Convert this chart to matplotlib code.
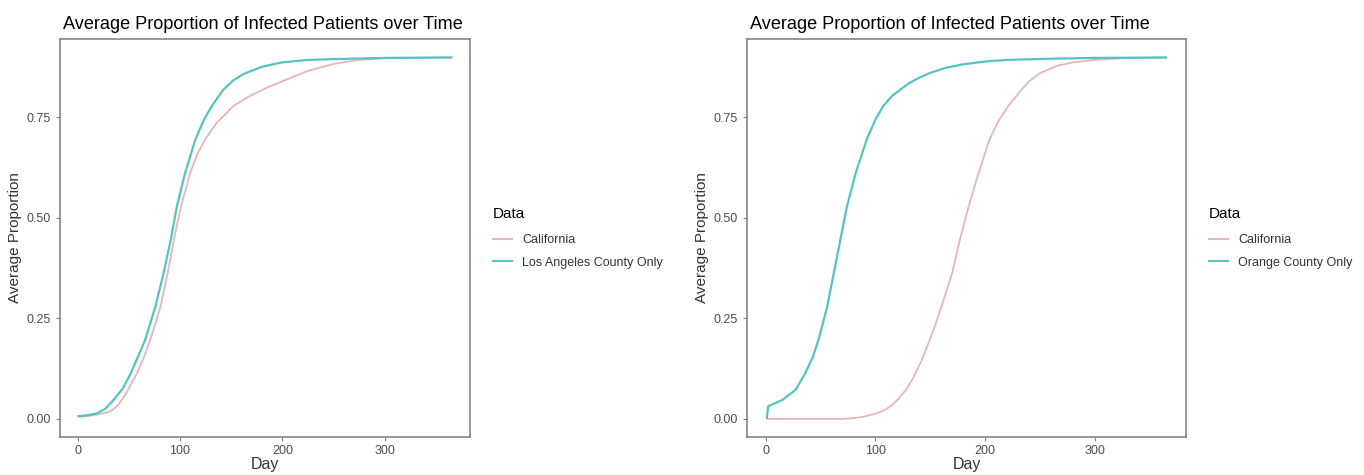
import matplotlib
matplotlib.use("Agg")
import matplotlib.pyplot as plt
from matplotlib.lines import Line2D

plt.rcParams['font.family'] = ['Liberation Sans', 'DejaVu Sans']

# ---- Data ----
days_ca_left = [1, 10, 20, 30, 35, 40, 47, 58, 65, 71, 76, 81, 88, 94, 101, 110, 117, 125,
                136, 152, 168, 185, 200, 225, 250, 275, 300, 365]
ca_left = [0.005, 0.007, 0.011, 0.017, 0.024, 0.036, 0.062, 0.114, 0.155, 0.197, 0.238,
           0.28, 0.363, 0.446, 0.529, 0.612, 0.66, 0.697, 0.737, 0.778, 0.803, 0.824,
           0.84, 0.866, 0.883, 0.893, 0.897, 0.899]

days_la = [1, 10, 19, 27, 35, 44, 52, 59, 66, 71, 76, 84, 91, 97, 105, 115, 123, 131,
           142, 152, 162, 180, 200, 225, 250, 300, 365]
la = [0.007, 0.009, 0.014, 0.025, 0.047, 0.075, 0.114, 0.155, 0.197, 0.238, 0.28, 0.363,
      0.446, 0.529, 0.612, 0.695, 0.742, 0.778, 0.818, 0.842, 0.858, 0.876, 0.887, 0.893,
      0.895, 0.898, 0.899]

days_ca_right = [1, 40, 70, 80, 90, 100, 105, 110, 115, 121, 128, 134, 142, 150, 156, 162,
                 170, 177, 185, 194, 204, 212, 221, 232, 240, 250, 265, 280, 300, 325, 365]
ca_right = [0.0, 0.0, 0.0, 0.002, 0.006, 0.013, 0.018, 0.025, 0.034, 0.05, 0.073, 0.10,
            0.145, 0.2, 0.245, 0.295, 0.363, 0.446, 0.529, 0.612, 0.695, 0.74, 0.778,
            0.815, 0.84, 0.86, 0.878, 0.887, 0.893, 0.897, 0.899]

days_oc = [1, 2, 5, 15, 27, 36, 43, 48, 52, 56, 62, 68, 74, 82, 92, 100, 107, 115, 123,
           130, 140, 150, 165, 180, 200, 220, 260, 300, 365]
oc = [0.003, 0.031, 0.035, 0.047, 0.072, 0.114, 0.155, 0.197, 0.238, 0.28, 0.363, 0.446,
      0.529, 0.612, 0.695, 0.745, 0.778, 0.803, 0.82, 0.834, 0.849, 0.861, 0.874, 0.882,
      0.889, 0.893, 0.896, 0.898, 0.899]

x_ticks = [0, 100, 200, 300]
y_ticks = [0.0, 0.25, 0.5, 0.75]
y_labels = ["0.00", "0.25", "0.50", "0.75"]

title = "Average Proportion of Infected Patients over Time"
pink = "#E5B6B8"
teal = "#55C3C3"
gray_text = "#4D4D4D"

fig = plt.figure(figsize=(13.64, 4.75), dpi=100)

def make_panel(rect, series, legend_labels, legend_x):
    ax = fig.add_axes(rect)
    for (d, v, c, lw) in series:
        ax.plot(d, v, color=c, lw=lw, solid_joinstyle='round')
    ax.set_xlim(-17.2, 383.2)
    ax.set_ylim(-0.045, 0.945)
    ax.set_xticks(x_ticks)
    ax.set_yticks(y_ticks)
    ax.set_yticklabels(y_labels)
    ax.tick_params(axis='both', colors='#7F7F7F', labelcolor=gray_text, labelsize=9,
                   length=3, width=0.8)
    ax.tick_params(axis='x', pad=3)
    for s in ax.spines.values():
        s.set_color('#7A7A7A')
        s.set_linewidth(1.1)
    ax.set_xlabel("Day", fontsize=11.5, color='#333333', labelpad=0)
    ax.set_ylabel("Average Proportion", fontsize=11, color='#333333', labelpad=3)
    ax.set_title(title, fontsize=13.1, color='black', loc='left', pad=7, x=0.007)
    handles = [Line2D([], [], color=pink, lw=1.5), Line2D([], [], color=teal, lw=1.5)]
    leg = fig.legend(handles, legend_labels, title="Data", loc='upper left',
                     bbox_to_anchor=(legend_x, 1 - 203 / 475), frameon=False,
                     fontsize=9, title_fontsize=11, handlelength=1.55, handletextpad=0.8,
                     labelspacing=0.85, alignment='left', labelcolor='#333333',
                     borderaxespad=0, borderpad=0.3)
    leg._legend_box.sep = 9.5
    return ax

make_panel([60 / 1364, 1 - 437 / 475, 410 / 1364, 398 / 475],
           [(days_ca_left, ca_left, pink, 1.3), (days_la, la, teal, 1.6)],
           ["California", "Los Angeles County Only"], 489 / 1364)
make_panel([747 / 1364, 1 - 437 / 475, 439 / 1364, 398 / 475],
           [(days_ca_right, ca_right, pink, 1.3), (days_oc, oc, teal, 1.6)],
           ["California", "Orange County Only"], 1205 / 1364)

fig.savefig("out.png", dpi=100)
